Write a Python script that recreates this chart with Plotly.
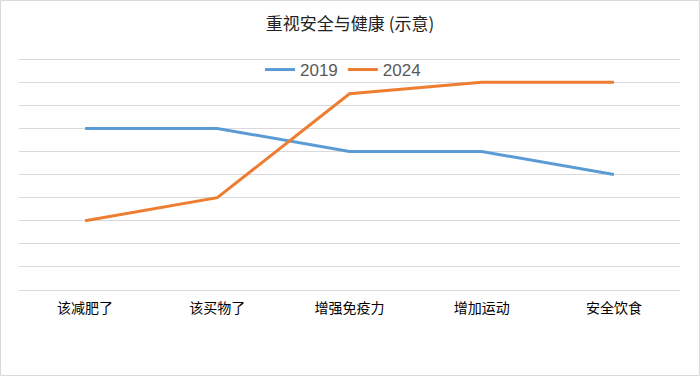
import plotly.graph_objects as go

categories = ["该减肥了", "该买物了", "增强免疫力", "增加运动", "安全饮食"]
series_2019 = [7, 7, 6, 6, 5]
series_2024 = [3, 4, 8.5, 9, 9]

W, H = 700, 376
L, R, T, B = 19, 20, 58, 86
pw, ph = W - L - R, H - T - B

fig = go.Figure()
fig.add_trace(go.Scatter(x=categories, y=series_2019, name="2019", mode="lines",
                         line=dict(color="#5B9BD5", width=3)))
fig.add_trace(go.Scatter(x=categories, y=series_2024, name="2024", mode="lines",
                         line=dict(color="#ED7D31", width=3)))

fig.update_layout(
    width=W, height=H,
    margin=dict(l=L, r=R, t=T, b=B, autoexpand=False),
    paper_bgcolor="white", plot_bgcolor="white",
    font=dict(family="Noto Sans CJK SC, sans-serif", color="#000000"),
    title=dict(text="重视安全与健康 (示意)", x=0.5, xanchor="center",
               y=1 - 24 / H, yanchor="middle",
               font=dict(size=17, color="#222222")),
    legend=dict(orientation="h", x=(343 - L) / pw, xanchor="center",
                y=(H - B - 70) / ph, yanchor="middle",
                font=dict(family="Liberation Sans, Arial, sans-serif", size=17,
                          color="#595959"),
                bgcolor="rgba(0,0,0,0)", itemwidth=30, tracegroupgap=0),
    showlegend=True,
    hovermode=False,
    shapes=[dict(type="rect", xref="paper", yref="paper",
                 x0=(0.5 - L) / pw, x1=(W - 0.5 - L) / pw,
                 y0=(H - B - (H - 0.5)) / ph, y1=(H - B - 0.5) / ph,
                 line=dict(color="#d9d9d9", width=1), layer="below")],
)
fig.update_xaxes(type="category", range=[-0.5, 4.5], showgrid=False,
                 showline=True, linecolor="#d9d9d9", linewidth=1,
                 ticks="", tickfont=dict(size=14, color="#000000"),
                 ticklabelstandoff=5)
fig.update_yaxes(range=[0, 10.05], dtick=1, tick0=0, showgrid=True,
                 gridcolor="#d9d9d9", gridwidth=1, showticklabels=False,
                 zeroline=False, ticks="")

fig.write_html(
    "out.html",
    config={"displayModeBar": False},
    post_script="document.body.style.margin='0';document.body.style.overflow='hidden';",
)
